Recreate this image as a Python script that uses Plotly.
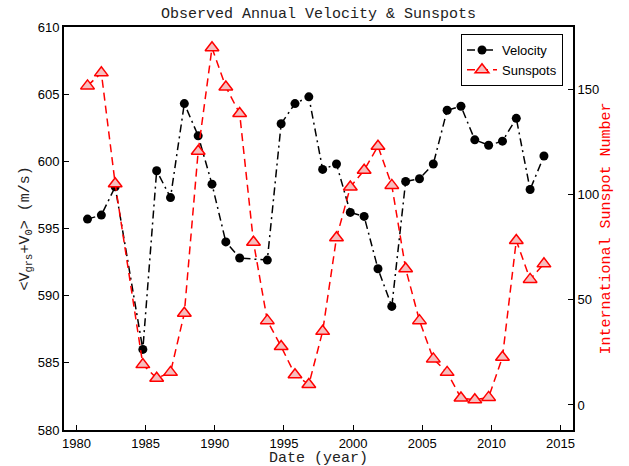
import plotly.graph_objects as go

# Observation epochs (decimal year) and values
vel_years = [1980.8, 1981.8, 1982.8, 1984.8, 1985.8, 1986.8, 1987.8, 1988.8,
             1989.8, 1990.8, 1991.8, 1993.8, 1994.8, 1995.8, 1996.8, 1997.8,
             1998.8, 1999.8, 2000.8, 2001.8, 2002.8, 2003.8, 2004.8, 2005.8,
             2006.8, 2007.8, 2008.8, 2009.8, 2010.8, 2011.8, 2012.8, 2013.8]
velocity = [595.7, 596.0, 598.1, 586.0, 599.3, 597.3, 604.3, 601.9,
            598.3, 594.0, 592.8, 592.65, 602.8, 604.3, 604.8, 599.4,
            599.8, 596.2, 595.9, 592.0, 589.2, 598.5, 598.7, 599.8,
            603.8, 604.1, 601.6, 601.2, 601.5, 603.2, 597.9, 600.4]

sun_years = [1980.8, 1981.8, 1982.8, 1984.8, 1985.8, 1986.8, 1987.8, 1988.8,
             1989.8, 1990.8, 1991.8, 1992.8, 1993.8, 1994.8, 1995.8, 1996.8,
             1997.8, 1998.8, 1999.8, 2000.8, 2001.8, 2002.8, 2003.8, 2004.8,
             2005.8, 2006.8, 2007.8, 2008.8, 2009.8, 2010.8, 2011.8, 2012.8,
             2013.8]
sunspots = [151.7, 157.9, 105.2, 19.2, 12.7, 15.5, 43.6, 120.6,
            169.8, 151.2, 138.6, 77.4, 40.1, 27.8, 14.4, 9.7,
            35.0, 79.5, 103.6, 111.6, 123.0, 104.4, 64.8, 40.1,
            21.9, 15.5, 3.3, 2.5, 3.6, 22.7, 78.2, 59.7,
            67.1]

x_ticks = [1980, 1985, 1990, 1995, 2000, 2005, 2010, 2015]
vel_ticks = [580, 585, 590, 595, 600, 605, 610]
sun_ticks = [0, 50, 100, 150]

MONO = "Liberation Mono, Courier New, monospace"
SANS = "Liberation Sans, Arial, sans-serif"

# plot area in pixels
L, R, T, B = 64, 56, 27, 36
W, H = 629, 466
PW, PH = W - L - R, H - T - B

fig = go.Figure()

fig.add_trace(go.Scatter(
    x=vel_years, y=velocity, name="Velocity", mode="lines+markers",
    line=dict(color="black", width=1.5, dash="8px,4px,2px,4px"),
    marker=dict(symbol="circle", size=9, color="black"),
    yaxis="y",
))

fig.add_trace(go.Scatter(
    x=sun_years, y=sunspots, name="Sunspots", mode="lines+markers",
    line=dict(color="red", width=1.5, dash="8px,5px"),
    marker=dict(symbol="triangle-up", size=12, color="rgb(246,190,190)",
                line=dict(color="red", width=1.5)),
    yaxis="y2",
))

axis_common = dict(
    ticks="inside", ticklen=5, tickwidth=1, tickcolor="black",
    showline=True, linecolor="black", linewidth=1.8,
    showgrid=False, zeroline=False, automargin=False,
    tickfont=dict(family=SANS, size=13, color="black"),
)

fig.update_layout(
    width=W, height=H,
    margin=dict(l=L, r=R, t=T, b=B, autoexpand=False),
    paper_bgcolor="white", plot_bgcolor="white",
    showlegend=True,
    title=dict(text="Observed Annual Velocity & Sunspots",
               font=dict(family=MONO, size=15, color="#222"),
               x=(L + L + PW) / 2 / W, xanchor="center",
               y=1 - 13 / H, yanchor="middle"),
    xaxis=dict(range=[1979.1, 2015.9], tickvals=x_ticks, mirror=True,
               **axis_common),
    yaxis=dict(range=[580, 610], tickvals=vel_ticks, **axis_common),
    yaxis2=dict(range=[-11.9, 179.7], tickvals=sun_ticks,
                overlaying="y", side="right", **axis_common),
    legend=dict(
        x=(563 - L) / PW, y=1 - (34 - T) / PH, xanchor="right", yanchor="top",
        bgcolor="white", bordercolor="black", borderwidth=1,
        font=dict(family=SANS, size=13, color="black"),
        tracegroupgap=0,
    ),
    annotations=[
        dict(text="Date (year)",
             xref="paper", yref="paper", x=0.5, y=-(459 - T - PH) / PH,
             xanchor="center", yanchor="middle", showarrow=False,
             font=dict(family=MONO, size=15, color="#222")),
        dict(text="&lt;V<sub>grs</sub>+V<sub>0</sub>&gt; (m/s)",
             xref="paper", yref="paper", x=(25 - L) / PW, y=0.5,
             xanchor="center", yanchor="middle", textangle=-90,
             showarrow=False,
             font=dict(family=MONO, size=15, color="#222")),
        dict(text="International Sunspot Number",
             xref="paper", yref="paper", x=(606 - L) / PW, y=0.5,
             xanchor="center", yanchor="middle", textangle=-90,
             showarrow=False,
             font=dict(family=MONO, size=15, color="red")),
    ],
)

fig.write_html("out.html")
